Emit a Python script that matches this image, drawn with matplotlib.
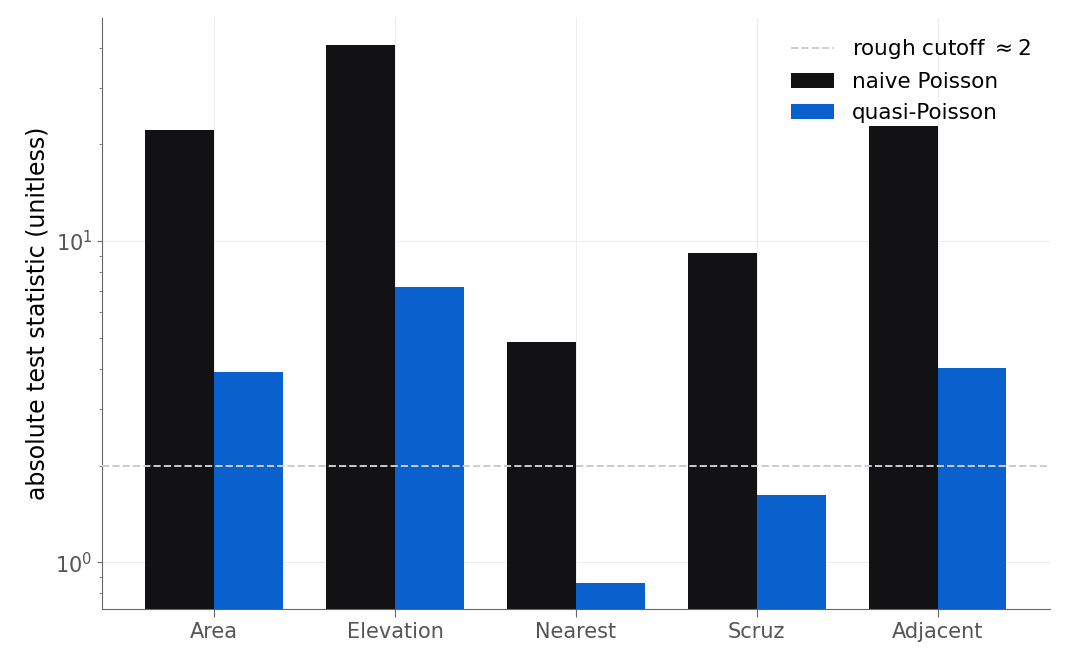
import matplotlib.pyplot as plt
import numpy as np

categories = ["Area", "Elevation", "Nearest", "Scruz", "Adjacent"]
naive = [22.2, 40.8, 4.85, 9.17, 22.8]
quasi = [3.91, 7.19, 0.86, 1.62, 4.02]
cutoff = 2

fig, ax = plt.subplots(figsize=(10.68, 6.63), dpi=100)
fig.subplots_adjust(left=0.0955, right=0.983, top=0.973, bottom=0.081)

x = np.arange(len(categories))
w = 0.38
ax.bar(x - w/2, naive, w, color="#121214", label="naive Poisson", zorder=2)
ax.bar(x + w/2, quasi, w, color="#0a60cc", label="quasi-Poisson", zorder=2)
ax.axhline(cutoff, color="#cccccc", ls="--", lw=1.4, label=r"rough cutoff $\approx 2$", zorder=3)

ax.set_yscale("log")
ax.set_ylim(0.714, 49.5)
ax.set_xlim(-0.62, 4.62)
ax.set_xticks(x)
ax.set_xticklabels(categories)
ax.set_ylabel("absolute test statistic (unitless)", fontsize=17)

ax.grid(True, color="#eeeeee", lw=0.8, zorder=0)
ax.grid(False, which="minor")
for s in ["top", "right"]:
    ax.spines[s].set_visible(False)
for s in ["left", "bottom"]:
    ax.spines[s].set_color("#666666")
ax.tick_params(axis="both", which="both", colors="#666666", labelcolor="#555555", labelsize=15)
ax.tick_params(axis="x", length=6)

ax.legend(frameon=False, fontsize=15.5, loc="upper right", handlelength=2.0)

plt.savefig("out.png")
